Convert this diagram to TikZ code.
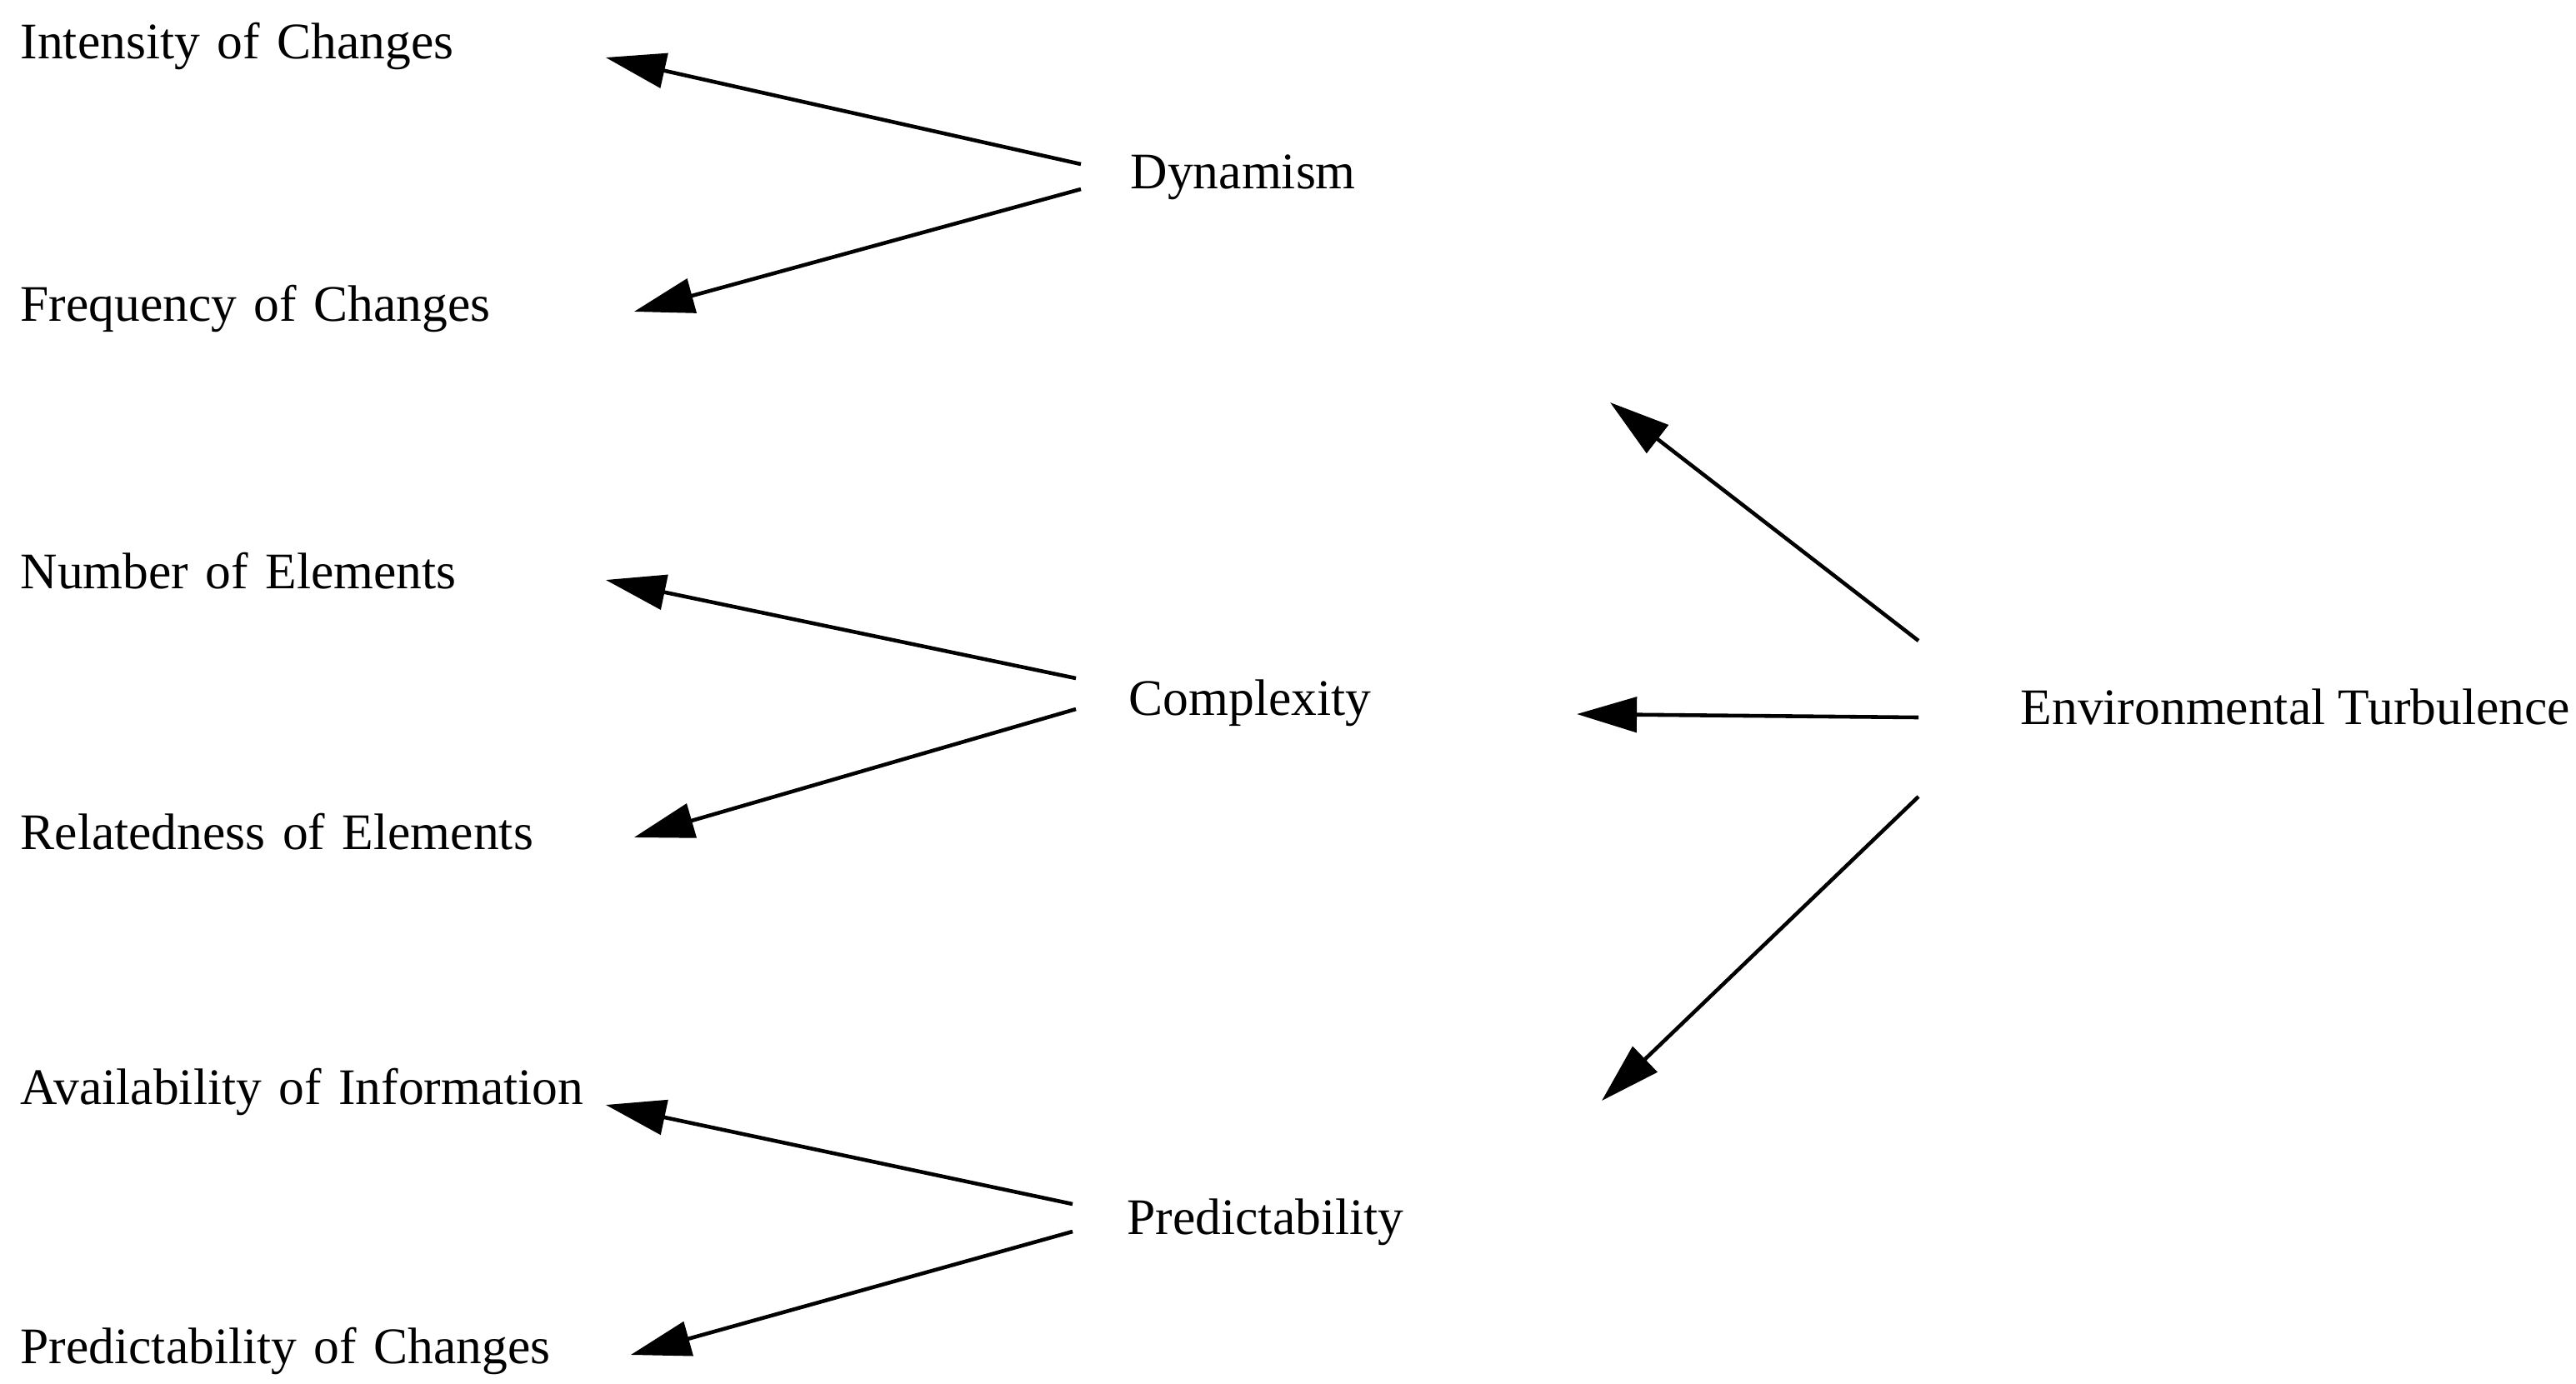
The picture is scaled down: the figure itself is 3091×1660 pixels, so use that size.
\documentclass[tikz,border=0pt]{standalone}
\usepackage{fontspec}
\setmainfont{Liberation Serif}
\usetikzlibrary{arrows.meta,calc}
\tikzset{
  lbl/.style={inner sep=0pt, anchor=west, font=\fontsize{17.5}{21}\selectfont},
  sub/.style={lbl, text width=7.1cm, align=left},
  arr/.style={line width=1.3pt, -{Triangle[length=0.72cm,width=0.42cm]}},
}
\begin{document}
\begin{tikzpicture}[x=0.01cm,y=-0.01cm]
\useasboundingbox (0,0) rectangle (3091,1660);
 % left column
 \node[sub] (int) at (24,55) {Intensity of Changes};
 \node[sub] (freq) at (24,370) {Frequency of Changes};
 \node[sub] (num) at (24,685) {Number of Elements};
 \node[sub] (rel) at (24,998) {Relatedness of Elements};
 \node[sub] (avail) at (24,1310) {Availability of Information};
 \node[sub] (predch) at (24,1621) {Predictability of Changes};
 % middle column
 \node[lbl] (dyn) at (1356,213) {Dynamism};
 \node[lbl] (comp) at (1354,844) {Complexity};
 \node[lbl] (pred) at (1352,1467) {Predictability};
 % right
 \node[lbl] (env) at (2424,848) {Environmental Turbulence};
%
 \draw[arr] ($(dyn.west)+(-59,-16)$) -- ($(int.east)+(-9,14)$);
 \draw[arr] ($(dyn.west)+(-59,14)$) -- ($(freq.east)+(25,4)$);
 \draw[arr] ($(comp.west)+(-63,-30)$) -- ($(num.east)+(-9,11)$);
 \draw[arr] ($(comp.west)+(-63,7)$) -- ($(rel.east)+(25,7)$);
 \draw[arr] ($(pred.west)+(-65,-22)$) -- ($(avail.east)+(-9,16)$);
 \draw[arr] ($(pred.west)+(-65,11)$) -- ($(predch.east)+(21,5)$);
%
 \draw[arr] ($(env.west)+(-122,-79)$) -- ($(dyn.west)+(576,270)$);
 \draw[arr] ($(env.west)+(-122,13)$) -- ($(comp.west)+(538,13)$);
 \draw[arr] ($(env.west)+(-122,108)$) -- ($(pred.west)+(570,-146)$);
\end{tikzpicture}
\end{document}
